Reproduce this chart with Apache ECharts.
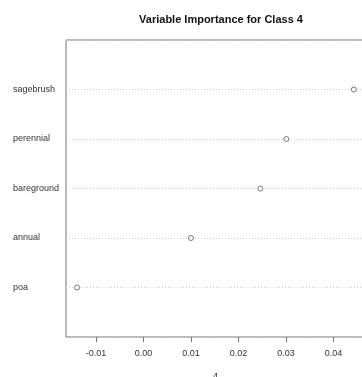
<!DOCTYPE html>
<html>
<head>
<meta charset="utf-8">
<script src="https://cdn.jsdelivr.net/npm/echarts@6/dist/echarts.min.js"></script>
<style>html,body{margin:0;padding:0;background:#fff;}#c{width:362px;height:377px;}</style>
</head>
<body>
<div id="c"></div>
<script>
var categories = ['sagebrush', 'perennial', 'bareground', 'annual', 'poa'];
var values = [0.0443, 0.0301, 0.0246, 0.0100, -0.0140];
var xTicks = [-0.01, 0.00, 0.01, 0.02, 0.03, 0.04];
var titleText = 'Variable Importance for Class 4';
var xName = '4';

var n = categories.length;
var chart = echarts.init(document.getElementById('c'), null, {renderer: 'canvas'});
chart.setOption({
  animation: false,
  backgroundColor: '#fff',
  textStyle: {fontFamily: 'Liberation Sans, Arial, sans-serif'},
  title: {
    text: titleText,
    left: 216, top: 9, textAlign: 'center',
    textStyle: {fontSize: 11, fontWeight: 'bold', color: '#111', fontFamily: 'Liberation Sans, Arial, sans-serif'}
  },
  grid: {
    left: 66, top: 40, width: 299, height: 297,
    show: true, borderColor: '#777', borderWidth: 1, backgroundColor: 'transparent',
    containLabel: false,
    outerBoundsMode: 'none'
  },
  xAxis: {
    type: 'value',
    min: -0.01633, max: 0.04666,
    name: xName, nameLocation: 'middle', nameGap: 35,
    nameTextStyle: {fontSize: 9, color: '#333'},
    axisLine: {show: false},
    splitLine: {show: false},
    axisTick: {show: true, customValues: xTicks, length: 5, lineStyle: {color: '#777'}},
    axisLabel: {
      customValues: xTicks, fontSize: 9, color: '#333', margin: 12,
      formatter: function (v) { return v.toFixed(2); }
    }
  },
  yAxis: {
    type: 'value',
    min: 0, max: n + 1, interval: 1,
    axisLine: {show: false},
    axisTick: {show: false},
    splitLine: {show: true, lineStyle: {type: [1, 2], color: '#ccc', width: 1}},
    axisLabel: {
      fontSize: 9, color: '#333', margin: 53, align: 'left',
      formatter: function (v) {
        var i = n - v;
        return (v >= 1 && v <= n) ? categories[i] : '';
      }
    }
  },
  series: [{
    type: 'scatter',
    symbol: 'circle',
    symbolSize: 5,
    itemStyle: {color: '#fff', borderColor: '#555', borderWidth: 1},
    data: values.map(function (v, i) { return [v, n - i]; })
  }]
});
</script>
</body>
</html>
